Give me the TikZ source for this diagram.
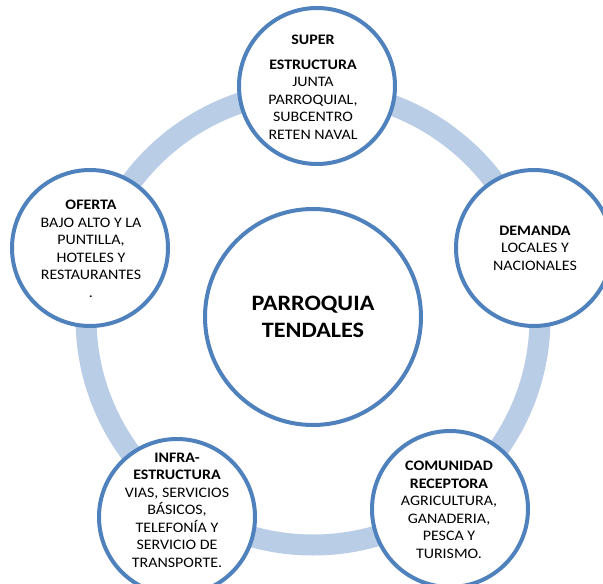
\documentclass[tikz,border=0pt]{standalone}
\usepackage{fontspec}
\setmainfont{Carlito}[FakeStretch=1.1]
\definecolor{ringblue}{RGB}{185,205,231}
\definecolor{edgeblue}{RGB}{79,129,189}
\begin{document}
\begin{tikzpicture}[x=1pt,y=-1pt,
  bubble/.style={circle,draw=edgeblue,line width=4pt,fill=white,minimum size=156pt,inner sep=0pt},
  hub/.style={circle,draw=edgeblue,line width=4pt,fill=white,minimum size=216pt,inner sep=0pt},
  txt/.style={align=center,font=\fontsize{14.5}{17.5}\selectfont,inner sep=0pt,text=black},
  hubtxt/.style={align=center,font=\fontsize{22}{27}\selectfont\bfseries,inner sep=0pt,text=black}]
\useasboundingbox (0,0) rectangle (603,584);
\clip (0,0) rectangle (603,584);
\coordinate (ringc) at (313,318);
\draw[ringblue,line width=21pt] (ringc) circle [radius=227pt];
% circles
\node[hub] (hub) at (313,317) {};
\node[bubble] (top) at (317,86) {};
\node[bubble] (left) at (90,248) {};
\node[bubble] (right) at (534,248) {};
\node[bubble] (bl) at (177,517) {};
\node[bubble] (br) at (450,509) {};
% texts
\node[hubtxt] (hubt) at (hub.center) {PARROQUIA\\TENDALES};
\node[txt] (topt) at (313,87) {\textbf{SUPER}\\[7.5pt]\textbf{ESTRUCTURA}\\JUNTA\\PARROQUIAL,\\SUBCENTRO\\RETEN NAVAL};
\node[txt] (leftt) at (91,249) {\textbf{OFERTA}\\BAJO ALTO Y LA\\PUNTILLA,\\HOTELES Y\\RESTAURANTES\\.};
\node[txt] (rightt) at (535,248) {\textbf{DEMANDA}\\LOCALES Y\\NACIONALES};
\node[txt] (blt) at (177,510) {\textbf{INFRA-}\\\textbf{ESTRUCTURA}\\VIAS, SERVICIOS\\BÁSICOS,\\TELEFONÍA Y\\SERVICIO DE\\TRANSPORTE.};
\node[txt] (brt) at (449,510) {\textbf{COMUNIDAD}\\\textbf{RECEPTORA}\\AGRICULTURA,\\GANADERIA,\\PESCA Y\\TURISMO.};
\end{tikzpicture}
\end{document}
